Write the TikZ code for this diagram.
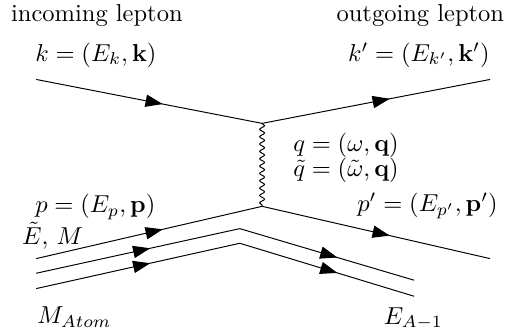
\documentclass[tikz,border=0pt]{standalone}
\usepackage{amsmath}
\usetikzlibrary{arrows.meta,decorations.markings,decorations.pathmorphing,positioning}

\begin{document}
\begin{tikzpicture}[
    fermion/.style={postaction={decorate},
        decoration={markings, mark=at position 0.56 with {\arrow{Triangle[length=7pt,width=5pt]}}}},
    photon/.style={decorate, decoration={snake, amplitude=1pt, segment length=3pt}},
    lbl/.style={inner sep=0pt}
]
    \useasboundingbox (0,0) rectangle (7.46,4.71);

    % Vertices and line ends
    \coordinate (kin) at (0.52,3.57);
    \coordinate (vtop) at (3.76,2.94);
    \coordinate (kout) at (7.03,3.57);
    \coordinate (vbot) at (3.76,1.75);
    \coordinate (pin) at (0.52,1.00);
    \coordinate (pout) at (7.03,1.00);

    % Lepton line and exchanged boson
    \draw[fermion] (kin) -- (vtop);
    \draw[fermion] (vtop) -- (kout);
    \draw[photon] (vtop) -- (vbot);

    % Struck nucleon
    \draw[fermion] (pin) -- (vbot);
    \draw[fermion] (vbot) -- (pout);

    % Spectator lines
    \foreach \i/\ya/\yb/\yc in {1/0.79/1.43/0.69, 2/0.57/1.22/0.46} {
        \coordinate (a\i) at (0.52,\ya);
        \coordinate (b\i) at (3.44,\yb);
        \coordinate (c\i) at (5.94,\yc);
        \draw[fermion] (a\i) -- (b\i);
        \draw[fermion] (b\i) -- (c\i);
    }

    % Labels
    \node (incoming) at (1.39,4.49) {incoming lepton};
    \node (outgoing) at (6.03,4.49) {outgoing lepton};
    \node[lbl, anchor=west] (klbl) at (0.50,3.92) {$k=(E_k,\mathbf{k})$};
    \node[lbl, anchor=east] (kplbl) at (7.03,3.92) {$k'=(E_{k'},\mathbf{k}')$};
    \node[lbl, anchor=west] (qlbl) at (4.20,2.63) {$q=(\omega,\mathbf{q})$};
    \node[lbl, anchor=west] (qtlbl) at (4.20,2.27) {$\tilde{q}=(\tilde{\omega},\mathbf{q})$};
    \node[lbl, anchor=west] (plbl) at (0.50,1.74) {$p=(E_p,\mathbf{p})$};
    \node[lbl, anchor=west] (pplbl) at (5.12,1.76) {$p'=(E_{p'},\mathbf{p}')$};
    \node[lbl, anchor=west] (emlbl) at (0.31,1.33) {$\tilde{E},\,M$};
    \node[lbl, anchor=west] (matom) at (0.53,0.16) {$M_{Atom}$};
    \node[lbl] (eaminus) at (5.93,0.14) {$E_{A-1}$};
\end{tikzpicture}
\end{document}
